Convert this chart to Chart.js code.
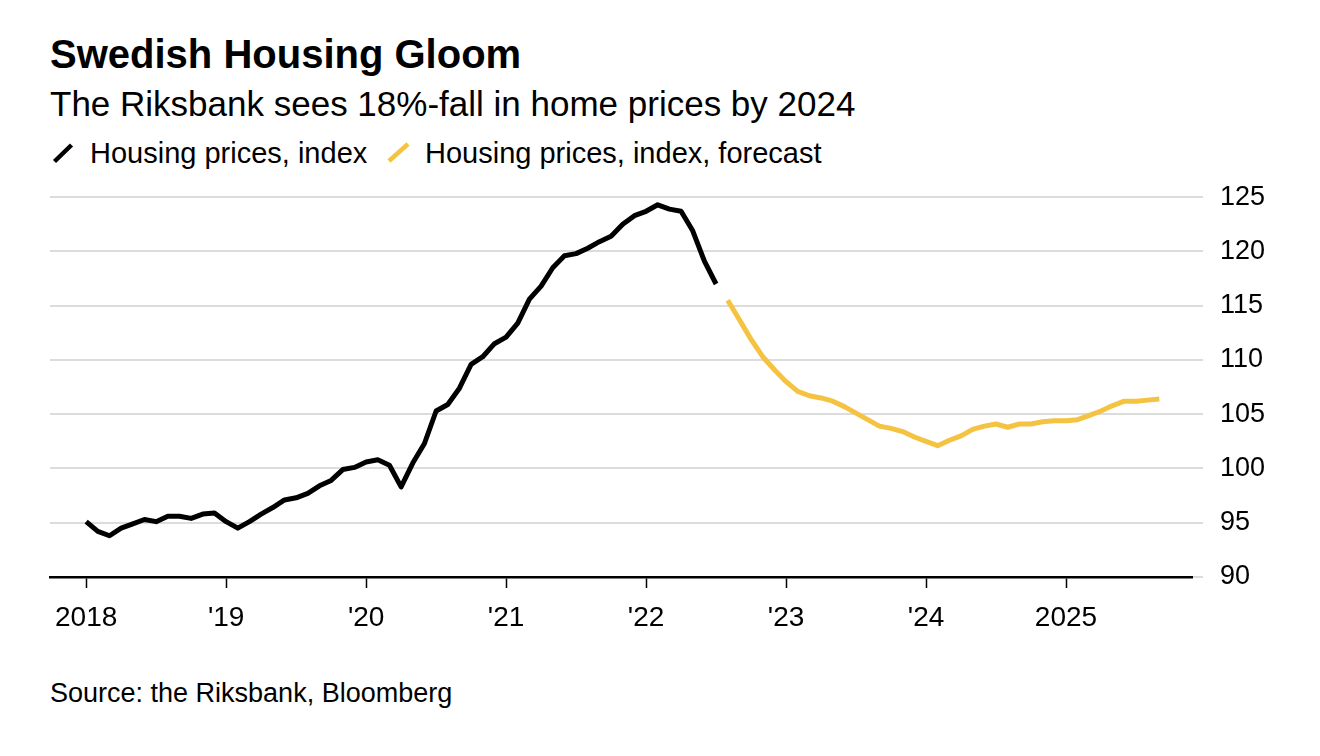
<!DOCTYPE html>
<html>
<head>
<meta charset="utf-8">
<script src="https://cdn.jsdelivr.net/npm/chart.js@4/dist/chart.umd.min.js"></script>
<style>
  html, body { margin: 0; padding: 0; background: #fff; }
  body { width: 1320px; height: 756px; position: relative; overflow: hidden; font-family: "Liberation Sans", Arial, sans-serif; color: #000; }
  .t { position: absolute; white-space: nowrap; }
  #title { left: 50px; top: 34px; font-size: 40px; line-height: 40px; font-weight: bold; }
  #subtitle { left: 50px; top: 86px; font-size: 35px; line-height: 35px; }
  .leg { top: 139px; font-size: 29px; line-height: 29px; }
  #source { left: 50px; top: 680px; font-size: 27px; line-height: 27px; }
  svg.sw { position: absolute; }
  #wrap { position: absolute; left: 0; top: 164px; width: 1320px; height: 486px; }
</style>
</head>
<body>
<div id="title" class="t">Swedish Housing Gloom</div>
<div id="subtitle" class="t">The Riksbank sees 18%-fall in home prices by 2024</div>
<svg class="sw" style="left:48px;top:139px" width="30" height="30"><line x1="6.5" y1="22.5" x2="23.5" y2="6" stroke="#000" stroke-width="4.5"/></svg>
<div id="leg1" class="t leg" style="left:90px">Housing prices, index</div>
<svg class="sw" style="left:382px;top:137px" width="32" height="32"><line x1="7" y1="24" x2="26" y2="7" stroke="#f5c342" stroke-width="4.5"/></svg>
<div id="leg2" class="t leg" style="left:425px">Housing prices, index, forecast</div>
<div id="wrap"><canvas id="c"></canvas></div>
<div id="source" class="t">Source: the Riksbank, Bloomberg</div>
<script>
// Monthly index values, Jan 2018 .. Jul 2022 (actual)
const actualValues = [
  95.1, 94.2, 93.8, 94.5, 94.9, 95.3, 95.1, 95.6, 95.6, 95.4, 95.8, 95.9,
  95.1, 94.5, 95.1, 95.8, 96.4, 97.1, 97.3, 97.7, 98.4, 98.9, 99.9, 100.1,
  100.6, 100.8, 100.3, 98.3, 100.5, 102.3, 105.3, 105.9, 107.4, 109.6, 110.3, 111.5,
  112.1, 113.4, 115.6, 116.8, 118.5, 119.6, 119.8, 120.3, 120.9, 121.4, 122.5, 123.3,
  123.7, 124.3, 123.9, 123.7, 121.9, 119.1, 117.0
];
// Forecast, Aug 2022 .. Sep 2025
const forecastStartMonth = 55; // months after Jan 2018
const forecastValues = [
  115.5, 113.7, 111.9, 110.3, 109.1,
  108.0, 107.1, 106.7, 106.5, 106.2, 105.7, 105.1, 104.5, 103.9, 103.7, 103.4, 102.9,
  102.5, 102.1, 102.6, 103.0, 103.6, 103.9, 104.1, 103.8, 104.1, 104.1, 104.3, 104.4,
  104.4, 104.5, 104.9, 105.3, 105.8, 106.2, 106.2, 106.3, 106.4
];
const yearTickLabels = ['2018', "'19", "'20", "'21", "'22", "'23", "'24", '2025'];
const yTicks = [90, 95, 100, 105, 110, 115, 120, 125];

const actualData = actualValues.map((v, i) => ({ x: i, y: v }));
const forecastData = forecastValues.map((v, i) => ({ x: forecastStartMonth + i, y: v }));

const FONT = '"Liberation Sans", Arial, sans-serif';

new Chart(document.getElementById('c'), {
  type: 'line',
  data: {
    datasets: [
      { label: 'Housing prices, index', data: actualData, borderColor: '#000', borderWidth: 5,
        pointRadius: 0, tension: 0, borderJoinStyle: 'round', borderCapStyle: 'butt', fill: false },
      { label: 'Housing prices, index, forecast', data: forecastData, borderColor: '#f5c342', borderWidth: 5,
        pointRadius: 0, tension: 0, borderJoinStyle: 'round', borderCapStyle: 'butt', fill: false }
    ]
  },
  options: {
    responsive: true,
    maintainAspectRatio: false,
    animation: false,
    layout: { padding: { left: 50, top: 20, right: 0, bottom: 0 } },
    plugins: { legend: { display: false }, tooltip: { enabled: false } },
    scales: {
      x: {
        type: 'linear',
        min: -3.1,
        max: 94.8,
        afterBuildTicks: (s) => { s.ticks = yearTickLabels.map((_, k) => ({ value: k * 12 })); },
        afterFit: (s) => { s.height = 73; },
        ticks: {
          autoSkip: false, maxRotation: 0, padding: 13, color: '#000',
          font: { family: FONT, size: 28 },
          callback: (v) => yearTickLabels[Math.round(v / 12)]
        },
        grid: { drawOnChartArea: false, drawTicks: true, tickLength: 11, tickColor: '#000', tickWidth: 1.5 },
        border: { display: true, color: '#000', width: 2.5 }
      },
      y: {
        position: 'right',
        min: 90,
        max: 125,
        afterBuildTicks: (s) => { s.ticks = yTicks.map(v => ({ value: v })); },
        afterFit: (s) => { s.width = 128; },
        ticks: { padding: 17, color: '#000', font: { family: FONT, size: 27 } },
        grid: { color: '#dcdcdc', lineWidth: 2, tickLength: 11, tickColor: '#dcdcdc' },
        border: { display: false }
      }
    }
  }
});
</script>
</body>
</html>
